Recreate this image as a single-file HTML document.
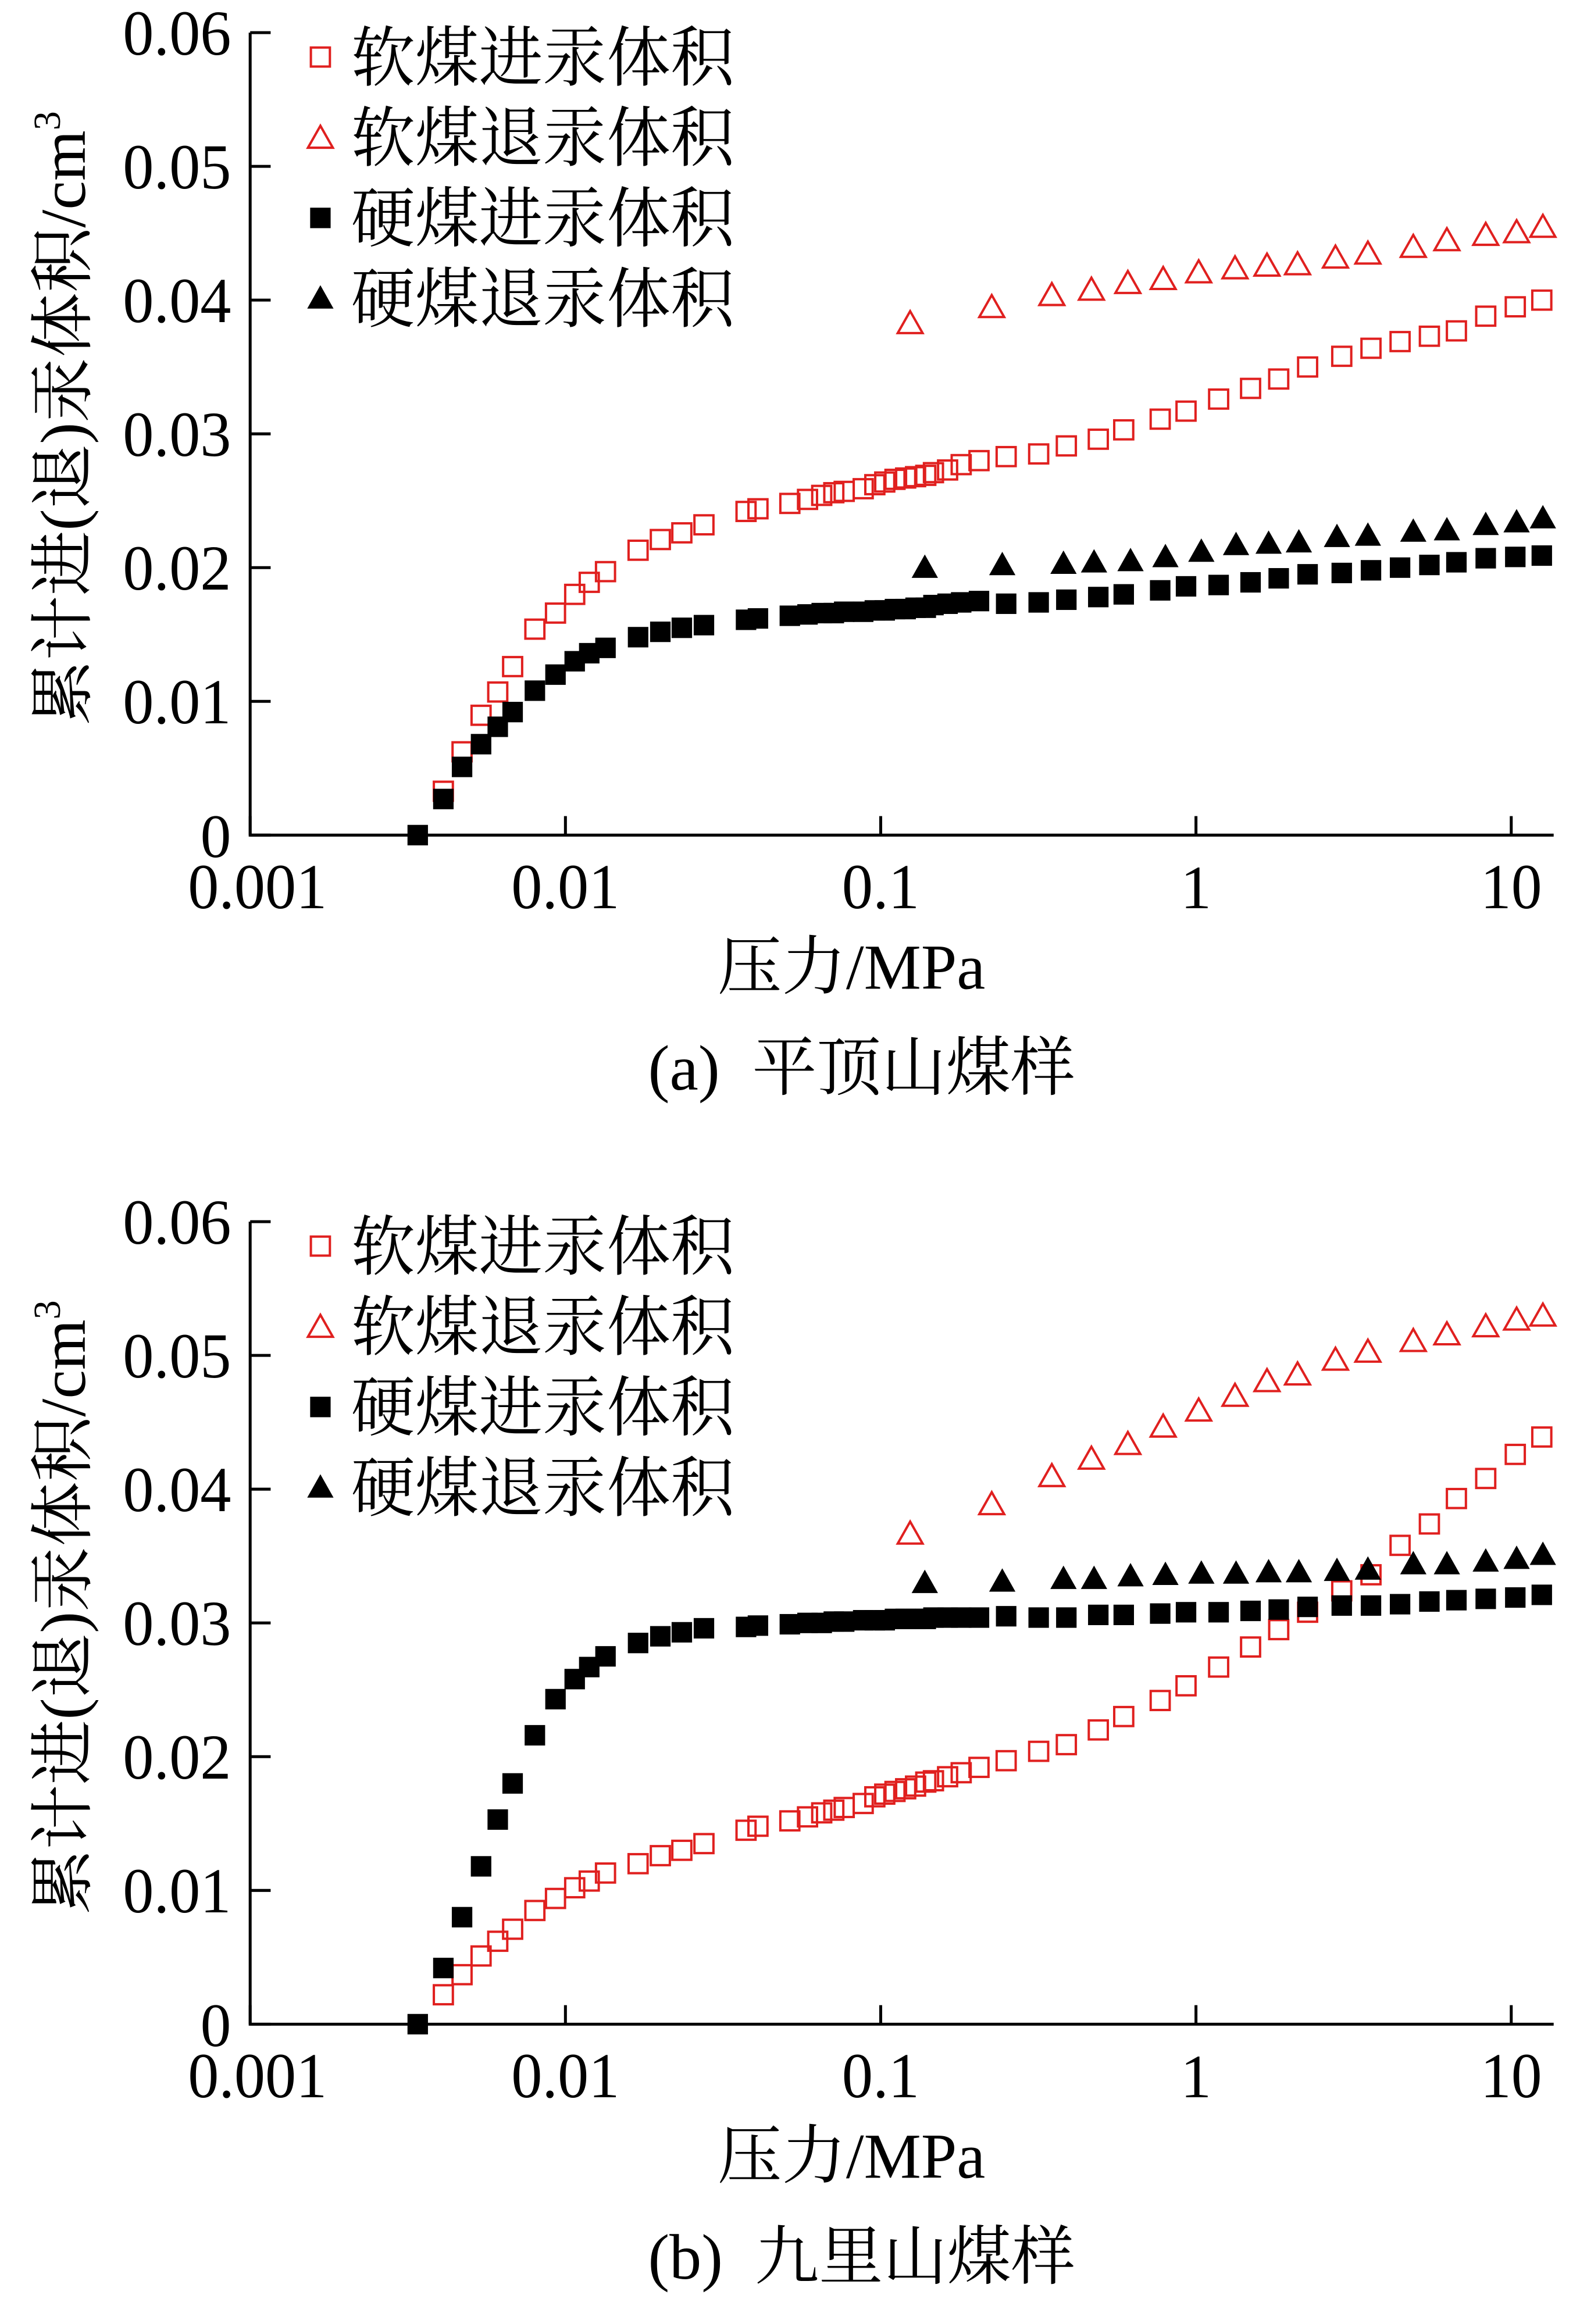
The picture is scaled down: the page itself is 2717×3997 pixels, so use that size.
<!DOCTYPE html>
<html><head><meta charset="utf-8"><style>
html,body{margin:0;padding:0;background:#fff;}
svg{display:block;}
text{font-family:"Liberation Serif","Noto Serif CJK SC","Noto Sans CJK SC",serif;fill:#000;}
</style></head><body>
<svg id="fig" width="2717" height="3997" viewBox="0 0 1080 1589" preserveAspectRatio="none" xmlns="http://www.w3.org/2000/svg"></svg>
<script>
// shared pressures (MPa)
const pIntr = [0.0041,0.0047,0.0054,0.0061,0.0068,0.0080,0.0093,0.0107,0.0119,0.0134,0.017,0.020,0.0234,0.0275,0.0374,0.0408,0.0515,0.0586,0.065,0.071,0.0766,0.088,0.0958,0.103,0.111,0.12,0.129,0.139,0.147,0.163,0.18,0.205,0.25,0.317,0.388,0.49,0.59,0.77,0.93,1.18,1.49,1.83,2.26,2.9,3.59,4.44,5.5,6.7,8.3,10.3,12.5];
const pHardIntr = [0.0034].concat(pIntr);
const pSoftExtr = [0.124,0.225,0.349,0.466,0.608,0.787,1.02,1.33,1.68,2.10,2.77,3.51,4.89,6.25,8.3,10.4,12.6];
const pHardExtr = [0.138,0.243,0.38,0.475,0.62,0.80,1.04,1.34,1.70,2.12,2.8,3.51,4.89,6.25,8.3,10.4,12.6];
// panel (a)
const aSoftIntr = [0.00328,0.00623,0.00896,0.0107,0.0126,0.0154,0.0166,0.0180,0.0189,0.0197,0.0213,0.0221,0.0226,0.0232,0.0242,0.0244,0.0248,0.0251,0.0254,0.0256,0.0257,0.0259,0.0262,0.0264,0.0266,0.0267,0.0268,0.0269,0.0271,0.0273,0.0277,0.0280,0.0283,0.0285,0.0291,0.0296,0.0303,0.0311,0.0317,0.0326,0.0334,0.0341,0.0350,0.0358,0.0364,0.0369,0.0373,0.0377,0.0388,0.0395,0.0400];
const aHardIntr = [0,0.0027,0.0051,0.0068,0.0081,0.0092,0.0108,0.0120,0.0130,0.0136,0.0140,0.0148,0.0152,0.0155,0.0157,0.0161,0.0162,0.0164,0.0165,0.0166,0.0166,0.0167,0.0167,0.0168,0.0168,0.0169,0.0169,0.0170,0.0170,0.0172,0.0173,0.0174,0.0175,0.0173,0.0174,0.0176,0.0178,0.0180,0.0183,0.0186,0.0187,0.0189,0.0192,0.0195,0.0196,0.0198,0.0200,0.0202,0.0204,0.0207,0.0208,0.0209];
const aSoftExtr = [0.0383,0.0395,0.0404,0.0408,0.0413,0.0416,0.0421,0.0424,0.0426,0.0427,0.0432,0.0435,0.0440,0.0445,0.0449,0.0451,0.0455];
const aHardExtr = [0.0200,0.0202,0.0203,0.0204,0.0205,0.0208,0.0212,0.0217,0.0218,0.0219,0.0223,0.0224,0.0227,0.0228,0.0232,0.0234,0.0237];
// panel (b)
const bSoftIntr = [0.0022,0.0037,0.0051,0.0062,0.0071,0.0085,0.0094,0.0102,0.0107,0.0113,0.0120,0.0126,0.0130,0.0135,0.0145,0.0148,0.0152,0.0155,0.0158,0.0160,0.0162,0.0165,0.0170,0.0172,0.0174,0.0176,0.0178,0.0181,0.0182,0.0185,0.0188,0.0192,0.0197,0.0204,0.0209,0.0220,0.0230,0.0242,0.0253,0.0267,0.0282,0.0295,0.0308,0.0324,0.0336,0.0358,0.0374,0.0393,0.0408,0.0426,0.0439];
const bHardIntr = [0,0.0042,0.0080,0.0118,0.0153,0.0180,0.0216,0.0243,0.0258,0.0267,0.0275,0.0285,0.0290,0.0293,0.0296,0.0297,0.0298,0.0299,0.0300,0.0300,0.0301,0.0301,0.0302,0.0302,0.0302,0.0303,0.0303,0.0303,0.0303,0.0304,0.0304,0.0304,0.0304,0.0305,0.0304,0.0304,0.0306,0.0306,0.0307,0.0308,0.0308,0.0309,0.0310,0.0312,0.0313,0.0313,0.0314,0.0316,0.0317,0.0318,0.0319,0.0321];
const bSoftExtr = [0.0367,0.0389,0.0410,0.0423,0.0434,0.0447,0.0459,0.0470,0.0481,0.0486,0.0497,0.0503,0.0511,0.0516,0.0522,0.0527,0.0530];
const bHardExtr = [0.0330,0.0331,0.0333,0.0333,0.0335,0.0336,0.0337,0.0337,0.0338,0.0338,0.0339,0.0340,0.0344,0.0344,0.0346,0.0348,0.0351];
const yTicks = [0,0.01,0.02,0.03,0.04,0.05,0.06];
const yTickLabels = ["0","0.01","0.02","0.03","0.04","0.05","0.06"];
const xTicks = [0.001,0.01,0.1,1,10];
const xTickLabels = ["0.001","0.01","0.1","1","10"];
const legendLabels = ["软煤进汞体积","软煤退汞体积","硬煤进汞体积","硬煤退汞体积"];

const NS="http://www.w3.org/2000/svg";
const svg=document.getElementById('fig');
function mk(tag,attrs,parent){const e=document.createElementNS(NS,tag);for(const k in attrs)e.setAttribute(k,attrs[k]);(parent||svg).appendChild(e);return e;}
function marker(g,type,x,y){
  const red="#e0201f";
  if(type===0) return mk('rect',{x:x-6.5,y:y-6.5,width:13,height:13,fill:'none',stroke:red,'stroke-width':1.6},g);
  if(type===1) return mk('polygon',{points:`${x},${y-8} ${x-8.5},${y+7} ${x+8.5},${y+7}`,fill:'none',stroke:red,'stroke-width':1.6},g);
  if(type===2) return mk('rect',{x:x-7,y:y-7,width:14,height:14,fill:'#000'},g);
  return mk('polygon',{points:`${x},${y-9} ${x-9},${y+7} ${x+9},${y+7}`,fill:'#000'},g);
}
function numText(g,s,attrs){
  const a=Object.assign({'font-size':44},attrs);
  if(s.length>1){a.textLength=(s.length===2?42:(s.length===3?53:(s.length===4?74:95)));a.lengthAdjust='spacingAndGlyphs';}
  else {a['font-size']=42;}
  const t=mk('text',a,g);t.textContent=s;return t;
}
function panel(id,top,series,caption){
  const x0=171, dec=215.5, yBase=top+549, per=91.45;
  const X=p=>x0+(Math.log10(p)+3)*dec;
  const Y=v=>yBase-v*per*100;
  const g=mk('g',{});
  
  
  const ax=mk('path',{d:`M${x0},${Y(0.06)} V${yBase} H1062`,stroke:'#000','stroke-width':2,fill:'none'},g);
  
  
  yTicks.forEach((t,i)=>{
    const tk=mk('line',{x1:x0,x2:x0+14,y1:Y(t),y2:Y(t),stroke:'#000','stroke-width':2},g);
    
    
    const tl=numText(g,yTickLabels[i],{x:158,y:Y(t)+15,'text-anchor':'end'});
    
    
  });
  xTicks.forEach((t,i)=>{
    const tk=mk('line',{x1:X(t),x2:X(t),y1:yBase,y2:yBase-13,stroke:'#000','stroke-width':2},g);
    
    
    const tl=numText(g,xTickLabels[i],{x:X(t)+(i===0?5:0),y:yBase+50,'text-anchor':'middle'});
    
    
  });
  const xt=mk('text',{x:582,y:yBase+105,'text-anchor':'middle','font-size':44,textLength:183,lengthAdjust:'spacingAndGlyphs'},g);
  xt.textContent='压力/MPa';
  
  
  const yt=mk('text',{transform:`translate(58,${top+264}) rotate(-90)`,'text-anchor':'middle','font-size':44,textLength:420,lengthAdjust:'spacingAndGlyphs'},g);
  yt.innerHTML='累计进(退)汞体积/cm<tspan font-size="26" dy="-17">3</tspan>';
  
  
  const cp=mk('text',{x:589,y:yBase+174,'text-anchor':'middle','font-size':44,textLength:292,lengthAdjust:'spacingAndGlyphs'},g);
  cp.textContent=caption;
  
  
  series.forEach((s,si)=>{
    const sg=mk('g',{},g);
    
    
    s.v.forEach((v,i)=>{
      const m=marker(sg,si,X(s.p[i]),Y(v));
      
      
    });
  });
  legendLabels.forEach((l,i)=>{
    const ly=top+17+i*55;
    const lg=mk('g',{},g);
    
    
    marker(lg,i,219,ly);
    const lt=mk('text',{x:240,y:ly+16,'font-size':45,textLength:262,lengthAdjust:'spacingAndGlyphs'},lg);
    lt.textContent=l;
  });
}
panel('chart-a',22,[{p:pIntr,v:aSoftIntr},{p:pSoftExtr,v:aSoftExtr},{p:pHardIntr,v:aHardIntr},{p:pHardExtr,v:aHardExtr}],'(a)\u00a0\u00a0平顶山煤样');
panel('chart-b',835,[{p:pIntr,v:bSoftIntr},{p:pSoftExtr,v:bSoftExtr},{p:pHardIntr,v:bHardIntr},{p:pHardExtr,v:bHardExtr}],'(b)\u00a0\u00a0九里山煤样');
</script>
</body></html>
